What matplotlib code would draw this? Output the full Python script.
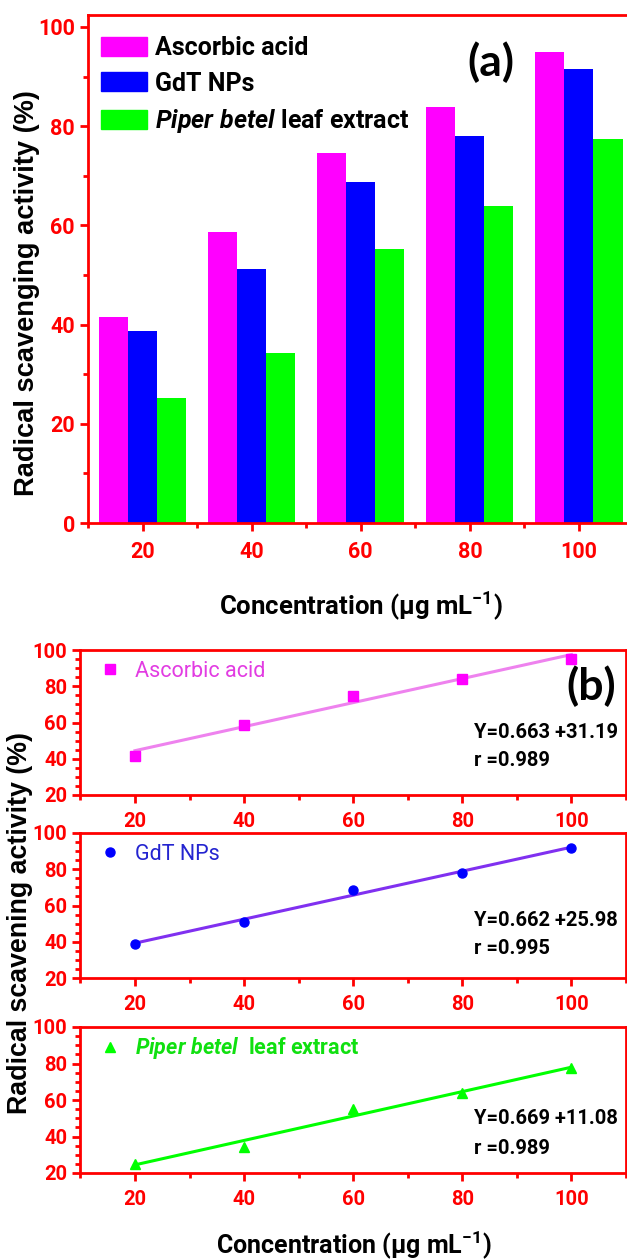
import numpy as np
import matplotlib
matplotlib.use('Agg')
import matplotlib.pyplot as plt
from matplotlib.ticker import MultipleLocator
from matplotlib.lines import Line2D
from matplotlib.patches import Patch

# concentrations (ug/mL) and % radical scavenging
conc = [20, 40, 60, 80, 100]
ascorbic = [41.6, 58.6, 74.5, 83.9, 94.9]
gdt = [38.7, 51.1, 68.8, 78.0, 91.6]
piper = [25.1, 34.2, 55.2, 63.9, 77.4]

# linear fits (slope, intercept, r)
fit_ascorbic = (0.663, 31.19, 0.989)
fit_gdt = (0.662, 25.98, 0.995)
fit_piper = (0.669, 11.08, 0.989)

RED = '#FF0000'
MAG = '#FF00FF'
BLUE = '#0000FF'
GREEN = '#00FF00'

NARROW = ['Roboto', 'DejaVu Sans']
WIDE = ['Liberation Sans', 'DejaVu Sans']

plt.rcParams['font.family'] = NARROW
plt.rcParams['font.weight'] = 'bold'
plt.rcParams['mathtext.fontset'] = 'custom'
plt.rcParams['mathtext.it'] = 'Roboto:italic:bold'
plt.rcParams['mathtext.rm'] = 'Roboto:bold'
plt.rcParams['mathtext.bf'] = 'Roboto:bold'

W, H = 627, 1259
fig = plt.figure(figsize=(W / 100, H / 100), dpi=100)


def px_axes(left, top, right, bottom):
    return fig.add_axes([left / W, 1 - bottom / H, (right - left) / W, (bottom - top) / H])


def style_axes(ax, fs, ymajor, yminor, xpad):
    for s in ax.spines.values():
        s.set_color(RED)
        s.set_linewidth(2)
    ax.tick_params(which='both', direction='out', color=RED, width=2,
                   labelcolor=RED, labelsize=fs, top=False, right=False)
    ax.tick_params(which='major', length=6)
    ax.tick_params(which='minor', length=3.5)
    ax.tick_params(axis='x', which='major', pad=xpad)
    ax.xaxis.set_major_locator(MultipleLocator(20))
    ax.xaxis.set_minor_locator(MultipleLocator(10))
    ax.yaxis.set_major_locator(MultipleLocator(ymajor))
    ax.yaxis.set_minor_locator(MultipleLocator(yminor))
    for lab in ax.get_xticklabels() + ax.get_yticklabels():
        lab.set_fontweight('bold')


# ---------------- (a) bar chart ----------------
ax = px_axes(88, 15, 633.5, 523)
bw = 16 / 3
x = np.array(conc)
ax.bar(x - bw, ascorbic, bw, color=MAG, edgecolor='none')
ax.bar(x, gdt, bw, color=BLUE, edgecolor='none')
ax.bar(x + bw, piper, bw, color=GREEN, edgecolor='none')
ax.set_xlim(10, 110)
ax.set_ylim(0, 102.4)
style_axes(ax, 15.5, 20, 10, 7)
ax.set_xticks(conc)

handles = [Patch(color=MAG), Patch(color=BLUE), Patch(color=GREEN)]
labels = ['Ascorbic acid', 'GdT NPs', r'$\mathit{Piper\ betel}$ leaf extract']
ax.legend(handles, labels, loc='upper left', bbox_to_anchor=(0.024, 0.958),
          frameon=False, handlelength=1.85, handleheight=0.8,
          handletextpad=0.3, labelspacing=0.45, borderpad=0, borderaxespad=0,
          prop={'family': NARROW, 'weight': 'bold', 'size': 18})
fig.text(491 / W, 1 - 62 / H, '(a)', family='Lato', weight='bold', fontsize=32,
         ha='center', va='center')

fig.text(27 / W, 1 - 293 / H, 'Radical scavenging activity (%)', family=WIDE,
         weight='bold', fontsize=19.6, rotation=90, ha='center', va='center')
fig.text(361 / W, 1 - 606 / H, r'Concentration ($\mathregular{\mu}$g mL$\mathregular{^{-1}}$)',
         weight='bold', fontsize=18.5, ha='center', va='center')

# ---------------- (b) linear fits ----------------
panels = [
    (650, 795, ascorbic, fit_ascorbic, 's', MAG, '#EE82EE', 'Ascorbic acid', '#E23CE2', 'normal'),
    (833, 978, gdt, fit_gdt, 'o', BLUE, '#8030F0', 'GdT NPs', '#2424D0', 'normal'),
    (1027, 1173, piper, fit_piper, '^', GREEN, GREEN, r'$\mathit{Piper\ betel}$  leaf extract', '#10E010', 'bold'),
]
text_y = [(732, 760), (920, 948), (1119, 1148)]

for (top, bot, vals, fit, mk, mc, lc, lab, tc, tw), (ty1, ty2) in zip(panels, text_y):
    axb = px_axes(80.4, top, 626, bot)
    xs = np.array(conc, dtype=float)
    axb.plot(xs, fit[0] * xs + fit[1], color=lc, lw=2.2, zorder=2)
    axb.plot(conc, vals, mk, color=mc, ms=6.5, zorder=3, linestyle='none')
    axb.set_xlim(10, 110)
    axb.set_ylim(20, 100)
    style_axes(axb, 14.5, 20, 5, 6)
    axb.set_xticks(conc)

    h = [Line2D([], [], marker=mk, color=mc, ms=6.5, linestyle='none')]
    axb.legend(h, [lab], loc='center left', bbox_to_anchor=(0.038, 0.855),
               frameon=False, handlelength=0.8, handletextpad=0.75,
               borderpad=0, borderaxespad=0, labelcolor=tc,
               prop={'family': NARROW, 'weight': tw, 'size': 15.5})

    fig.text(474 / W, 1 - ty1 / H, 'Y=%.3f +%.2f' % (fit[0], fit[1]), weight='bold',
             fontsize=14.5, ha='left', va='center')
    fig.text(474 / W, 1 - ty2 / H, 'r =%.3f' % fit[2], weight='bold',
             fontsize=14.5, ha='left', va='center')

fig.text(591 / W, 1 - 686 / H, '(b)', family='Lato', weight='bold', fontsize=32,
         ha='center', va='center')
fig.text(20 / W, 1 - 923 / H, 'Radical scavening activity (%)', family=WIDE,
         weight='bold', fontsize=19.3, rotation=90, ha='center', va='center')
fig.text(354 / W, 1 - 1245 / H, r'Concentration ($\mathregular{\mu}$g mL$\mathregular{^{-1}}$)',
         weight='bold', fontsize=18, ha='center', va='center')

fig.savefig('out.png', dpi=100)
